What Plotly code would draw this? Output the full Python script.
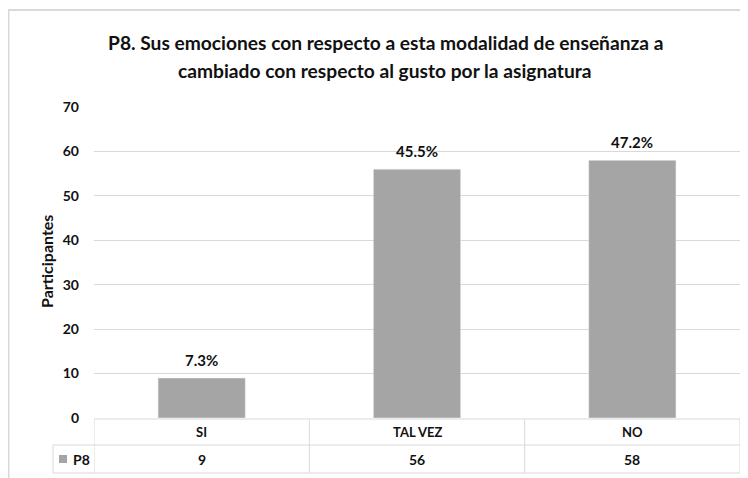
import plotly.graph_objects as go

categories = ["SI", "TAL VEZ", "NO"]
participants = [9, 56, 58]
percent_labels = ["7.3%", "45.5%", "47.2%"]
series_name = "P8"
title_lines = ["P8. Sus emociones con respecto a esta modalidad de enseñanza a",
               "cambiado con respecto al gusto por la asignatura"]
y_title = "Participantes"
y_ticks = [0, 10, 20, 30, 40, 50, 60, 70]

FONT = "Lato"
BAR = "#a5a5a5"
GRID = "#d9d9d9"
TEXT = "#111111"

# the page body adds 8px, so page pixels are figure pixels + 8
OFF = 8
W, H = 748, 478
L, R, T, B = 86, 16, 99, 68
PW, PH = W - L - R, H - T - B


def px(page_x):
    return (page_x - OFF - L) / PW


def py(page_y):
    return (H - B - (page_y - OFF)) / PH


def label(**kw):
    kw.setdefault("xanchor", "center")
    kw.setdefault("yanchor", "middle")
    fig.add_annotation(showarrow=False, **kw)


fig = go.Figure(go.Bar(x=categories, y=participants, marker_color=BAR,
                       width=0.405, name=series_name, showlegend=False))

fig.update_layout(
    width=W, height=H, margin=dict(l=L, r=R, t=T, b=B),
    paper_bgcolor="white", plot_bgcolor="white",
    font=dict(family=FONT, size=13, color=TEXT, weight="bold"),
    xaxis=dict(range=[-0.5, 2.5], showticklabels=False, showgrid=False, zeroline=False,
               fixedrange=True),
    yaxis=dict(range=[0, 70], tickvals=y_ticks, showgrid=True, gridcolor=GRID, gridwidth=1,
               zeroline=False, ticks="", ticklabelstandoff=14,
               tickfont=dict(size=14, family=FONT, weight="bold", color=TEXT)),
)

# title, two centred lines
for i, txt in enumerate(title_lines):
    label(xref="paper", yref="paper", x=px(385), y=py(42 + 28 * i), text=txt,
          font=dict(size=19.2, weight="bold"))

# y axis title
label(xref="paper", yref="paper", x=px(46), y=py(262), textangle=-90, text=y_title,
      font=dict(size=16, weight="bold"))

# percent labels above the bars
for cat, val, lab in zip(categories, participants, percent_labels):
    label(x=cat, y=val, text=lab, yshift=18, font=dict(size=15, weight="bold"))

# data table under the plot
line = dict(color=GRID, width=1)
fig.add_shape(type="line", xref="paper", yref="paper", x0=0, x1=1,
              y0=py(419), y1=py(419), line=line)
for yy in [445, 473]:
    fig.add_shape(type="line", xref="paper", yref="paper", x0=px(53), x1=1,
                  y0=py(yy), y1=py(yy), line=line)
fig.add_shape(type="line", xref="paper", yref="paper", x0=px(53), x1=px(53),
              y0=py(445), y1=py(473), line=line)
for xb in [-0.5, 0.5, 1.5, 2.5]:
    fig.add_shape(type="line", xref="x", yref="paper", x0=xb, x1=xb,
                  y0=py(419), y1=py(473), line=line)

for cat, val in zip(categories, participants):
    label(x=cat, y=py(432), yref="paper", text=cat, font=dict(size=13, weight="bold"))
    label(x=cat, y=py(459), yref="paper", text=str(val), font=dict(size=14, weight="bold"))

# legend key in the table
fig.add_shape(type="rect", xref="paper", yref="paper", x0=px(59), x1=px(67),
              y0=py(463), y1=py(455), fillcolor=BAR, line=dict(width=0))
label(xref="paper", yref="paper", x=px(71), y=py(459), xanchor="left", text=series_name,
      font=dict(size=14, weight="bold"))

# chart frame
fig.add_shape(type="rect", xref="paper", yref="paper", x0=px(8.5), x1=px(770),
              y0=py(500), y1=py(10), line=dict(color=GRID, width=2), layer="below")

fig.write_html("out.html")
